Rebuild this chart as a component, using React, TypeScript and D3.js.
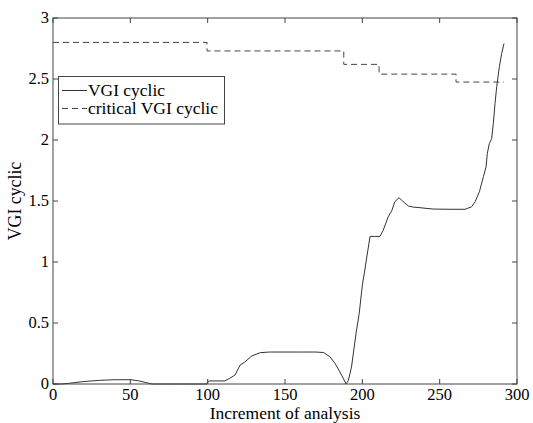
import React from "react";
import * as d3 from "d3";

const W = 533, H = 423;
const M = { left: 53, right: 517, top: 18, bottom: 384 };

const vgiX = [0, 5, 10, 20, 30, 40, 50, 55, 60, 64, 70, 80, 90, 99.5, 100.3, 101, 106, 111, 114, 117.7, 121, 124, 128.5, 134, 140, 150, 160, 170, 175, 179, 182.3, 185, 187.5, 189.5, 191, 193, 196, 198, 200, 201.3, 203, 205, 208, 211.4, 213.4, 216.7, 219, 221, 223.7, 226, 229.7, 233, 237.3, 245.8, 256.7, 266.4, 270.7, 272.9, 275.7, 278.3, 280, 280.8, 282.1, 283.6, 284.7, 285.8, 286.9, 288.6, 290.1, 291.6];
const vgiY = [0, 0, 0.005, 0.02, 0.03, 0.035, 0.035, 0.027, 0.012, 0, 0, 0, 0, 0, 0.02, 0.025, 0.025, 0.025, 0.045, 0.074, 0.155, 0.18, 0.23, 0.257, 0.262, 0.262, 0.262, 0.262, 0.258, 0.224, 0.17, 0.11, 0.05, 0, 0.03, 0.14, 0.42, 0.58, 0.81, 0.91, 1.05, 1.21, 1.21, 1.21, 1.257, 1.37, 1.42, 1.494, 1.527, 1.5, 1.459, 1.45, 1.445, 1.434, 1.432, 1.432, 1.453, 1.494, 1.576, 1.70, 1.78, 1.89, 1.97, 2.01, 2.136, 2.30, 2.44, 2.60, 2.71, 2.79];

const critX = [0, 99.6, 99.6, 188, 188, 210.8, 210.8, 260.6, 260.6, 291.6];
const critY = [2.8, 2.8, 2.73, 2.73, 2.62, 2.62, 2.54, 2.54, 2.475, 2.475];

const xTicks = [0, 50, 100, 150, 200, 250, 300];
const yTicks = [0, 0.5, 1, 1.5, 2, 2.5, 3];
const yTickLabels = ["0", "0.5", "1", "1.5", "2", "2.5", "3"];

const seriesNames = ["VGI cyclic", "critical VGI cyclic"];

export default function App() {
  const x = d3.scaleLinear().domain([0, 300]).range([M.left, M.right]);
  const y = d3.scaleLinear().domain([0, 3]).range([M.bottom, M.top]);
  const line = d3.line<[number, number]>().x(d => x(d[0])).y(d => y(d[1]));
  const vgi = line(vgiX.map((v, i) => [v, vgiY[i]] as [number, number])) || "";
  const crit = line(critX.map((v, i) => [v, critY[i]] as [number, number])) || "";
  const font = "'Liberation Serif', 'Times New Roman', serif";
  const axisColor = "#444";
  const tl = 5;
  return (
    <svg width={W} height={H} style={{ position: "absolute", left: 0, top: 0, background: "#fff" }} fontFamily={font}>
      <rect x={0} y={0} width={W} height={H} fill="#fff" />
      <path d={vgi} fill="none" stroke="#333" strokeWidth={1} />
      <path d={crit} fill="none" stroke="#444" strokeWidth={1} strokeDasharray="6,4" />
      <rect x={M.left} y={M.top} width={M.right - M.left} height={M.bottom - M.top} fill="none" stroke={axisColor} strokeWidth={1} />
      {xTicks.map(t => (
        <g key={"x" + t}>
          <line x1={x(t)} x2={x(t)} y1={M.bottom} y2={M.bottom - tl} stroke={axisColor} />
          <line x1={x(t)} x2={x(t)} y1={M.top} y2={M.top + tl} stroke={axisColor} />
          <text x={x(t)} y={M.bottom + 15.5} fontSize={16.5} textAnchor="middle" fill="#000">{t}</text>
        </g>
      ))}
      {yTicks.map((t, i) => (
        <g key={"y" + t}>
          <line x1={M.left} x2={M.left + tl} y1={y(t)} y2={y(t)} stroke={axisColor} />
          <line x1={M.right} x2={M.right - tl} y1={y(t)} y2={y(t)} stroke={axisColor} />
          <text x={M.left - 4} y={y(t) + 5} fontSize={16.5} textAnchor="end" fill="#000">{yTickLabels[i]}</text>
        </g>
      ))}
      <text x={(M.left + M.right) / 2} y={419} fontSize={17.5} textAnchor="middle" fill="#000">Increment of analysis</text>
      <text transform={`translate(21,${(M.top + M.bottom) / 2}) rotate(-90)`} fontSize={17.8} textAnchor="middle" fill="#000">VGI cyclic</text>
      <g>
        <rect x={58.5} y={76.5} width={166} height={47.5} fill="#fff" stroke={axisColor} />
        <line x1={62} x2={87} y1={90.5} y2={90.5} stroke="#333" />
        <text x={88} y={96} fontSize={16} fill="#000" textLength={77} lengthAdjust="spacingAndGlyphs">{seriesNames[0]}</text>
        <line x1={62} x2={87} y1={108.5} y2={108.5} stroke="#444" strokeDasharray="6,4" />
        <text x={88} y={114} fontSize={16} fill="#000" textLength={130} lengthAdjust="spacingAndGlyphs">{seriesNames[1]}</text>
      </g>
    </svg>
  );
}
